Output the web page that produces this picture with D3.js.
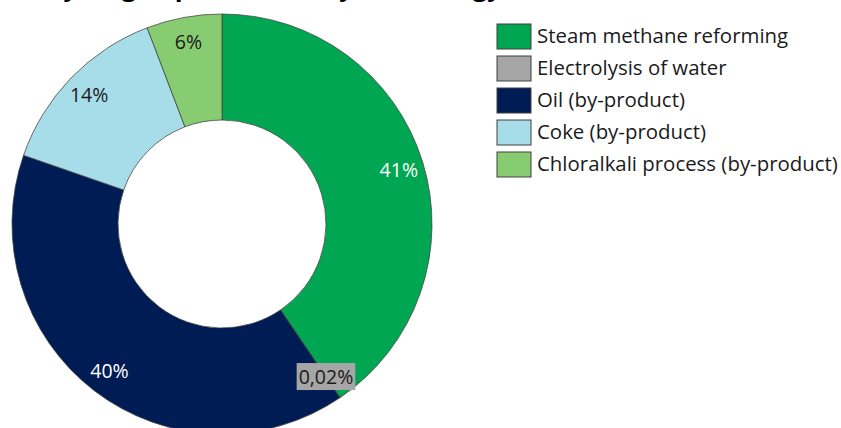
<!DOCTYPE html>
<html>
<head>
<meta charset="utf-8">
<script src="https://cdn.jsdelivr.net/npm/d3@7/dist/d3.min.js"></script>
<style>
  html, body { margin: 0; padding: 0; background: #fff; }
  svg { display: block; }
  text { font-family: "Open Sans", "Noto Sans", sans-serif; }
</style>
</head>
<body>
<svg id="chart" width="841" height="428"></svg>
<script>
const title = "Hydrogen production by technology";
const categories = ["Steam methane reforming", "Electrolysis of water", "Oil (by-product)", "Coke (by-product)", "Chloralkali process (by-product)"];
const values = [40.5, 0.02, 39.8, 13.9, 5.8];
const valueLabels = ["41%", "0,02%", "40%", "14%", "6%"];
const colors = ["#00a651", "#a6a6a6", "#001c54", "#a7dde9", "#88cc72"];
const labelColors = ["#ffffff", "#1a1a1a", "#ffffff", "#1a1a1a", "#1a1a1a"];

const svg = d3.select("#chart");
const cx = 222, cy = 224, outerR = 210, innerR = 104, labelR = 185;

// title (cut off at the top edge as in the reference)
const tt = svg.append("text")
  .attr("x", 44).attr("y", -4)
  .attr("font-size", 24).attr("font-weight", "bold").attr("fill", "#000")
  .text(title);
const tLen = tt.node().getComputedTextLength();
tt.attr("font-size", 24 * 458 / tLen);

const pie = d3.pie().sort(null).value(d => d.v);
const arcs = pie(values.map((v, i) => ({ v, i })));
const arc = d3.arc().innerRadius(innerR).outerRadius(outerR);
const labelArc = d3.arc().innerRadius(labelR).outerRadius(labelR);

const g = svg.append("g").attr("transform", `translate(${cx},${cy})`);
g.selectAll("path").data(arcs).join("path")
  .attr("d", arc)
  .attr("fill", d => colors[d.data.i])
  .attr("stroke", "#404040").attr("stroke-width", 0.75);

const lab = g.selectAll("g.lab").data(arcs).join("g").attr("class", "lab")
  .attr("transform", d => `translate(${labelArc.centroid(d)})`);
lab.each(function(d) {
  const sel = d3.select(this);
  const t = sel.append("text")
    .attr("text-anchor", "middle").attr("dy", "0.36em")
    .attr("font-size", 19.5).attr("fill", labelColors[d.data.i])
    .text(valueLabels[d.data.i]);
  if (d.data.i === 1) {
    const bb = t.node().getBBox();
    sel.insert("rect", "text")
      .attr("x", bb.x - 2).attr("y", bb.y)
      .attr("width", bb.width + 4).attr("height", bb.height)
      .attr("fill", colors[1]);
  }
});

const legend = svg.append("g").attr("transform", "translate(497,24)");
const rows = legend.selectAll("g").data(categories).join("g")
  .attr("transform", (d, i) => `translate(0,${i * 32})`);
rows.append("rect").attr("width", 34).attr("height", 25)
  .attr("fill", (d, i) => colors[i]).attr("stroke", "#404040").attr("stroke-width", 1);
const lt = rows.append("text").attr("x", 40).attr("y", 19)
  .attr("font-size", 18).attr("fill", "#1a1a1a").text(d => d);
const maxLen = d3.max(lt.nodes(), n => n.getComputedTextLength());
lt.attr("font-size", 18 * 301 / maxLen);
</script>
</body>
</html>
